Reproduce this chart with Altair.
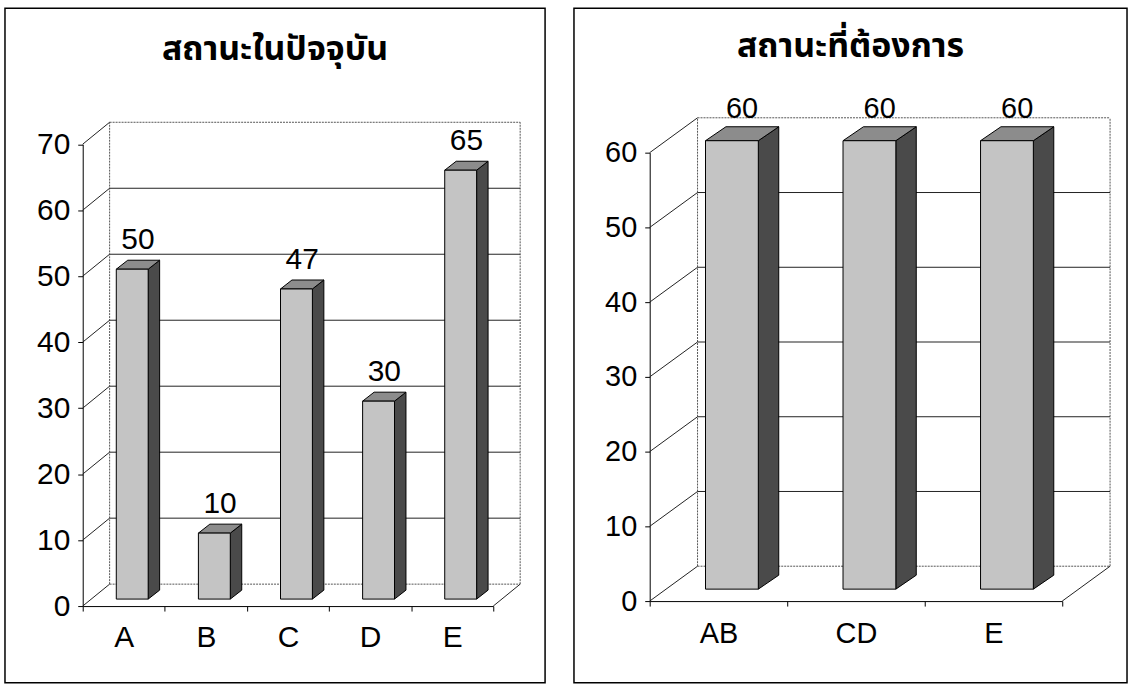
import altair as alt
import pandas as pd

# ---------------- data ----------------
left_title = "สถานะในปัจจุบัน"
left_categories = ["A", "B", "C", "D", "E"]
left_values = [50, 10, 47, 30, 65]
left_ticks = [0, 10, 20, 30, 40, 50, 60, 70]

right_title = "สถานะที่ต้องการ"
right_categories = ["AB", "CD", "E"]
right_values = [60, 60, 60]
right_ticks = [0, 10, 20, 30, 40, 50, 60]

FONT = "Liberation Sans, Arial, sans-serif"
THAI_FONT = "Noto Sans Thai, Loma, Garuda, Tahoma, Noto Sans, sans-serif"


def panel(title, cats, vals, ticks, W, H, xr, yr, depth, bar_front, bar_depth,
          bar_w, title_y, fs, label_dy, xlab_pad):
    n = len(cats)
    ymax = ticks[-1]
    ux = (xr[1] - xr[0]) / n
    uy = (yr[0] - yr[1]) / ymax
    Dx, Dy = depth[0] / ux, depth[1] / uy
    fx, fy = bar_front[0] / ux, bar_front[1] / uy
    bx, by = bar_depth[0] / ux, bar_depth[1] / uy
    hw = bar_w / ux / 2

    xs = alt.Scale(domain=[0, n], range=list(xr), nice=False, zero=False)
    ys = alt.Scale(domain=[0, ymax], range=list(yr), nice=False, zero=False)

    front, side, top, lab = [], [], [], []
    for i, (c, v) in enumerate(zip(cats, vals)):
        xl = i + 0.5 - hw + fx
        xrr = i + 0.5 + hw + fx
        yb = fy
        yt = v + fy
        front.append(dict(cat=c, x=xl, x2=xrr, y=yb, y2=yt))
        side.append(dict(cat=c, x=xrr, y=yb, y2=yt))
        side.append(dict(cat=c, x=xrr + bx, y=yb + by, y2=yt + by))
        top.append(dict(cat=c, y=yt, x=xl, x2=xrr))
        top.append(dict(cat=c, y=yt + by, x=xl + bx, x2=xrr + bx))
        lab.append(dict(cat=c, x=(xl + xrr + bx) / 2, y=yt + by, t=str(v)))

    solid, dotted = [], []
    for t in ticks:
        solid.append(dict(x=0, y=t, x2=Dx, y2=t + Dy))
        seg = dict(x=Dx, y=t + Dy, x2=n + Dx, y2=t + Dy)
        (dotted if t in (0, ymax) else solid).append(seg)
    solid.append(dict(x=n, y=0, x2=n + Dx, y2=Dy))
    dotted.append(dict(x=Dx, y=Dy, x2=Dx, y2=ymax + Dy))
    dotted.append(dict(x=n + Dx, y=Dy, x2=n + Dx, y2=ymax + Dy))

    X = lambda f="x": alt.X(f"{f}:Q", scale=xs)
    Y = lambda f="y": alt.Y(f"{f}:Q", scale=ys)

    lab_arr = "[" + ",".join("'" + c + "'" for c in cats) + "]"
    x_axis = alt.Axis(values=list(range(n + 1)), orient="bottom",
                      offset=-(H - yr[0]), labelExpr=f"datum.value < {n} ? {lab_arr}[datum.value] : ''",
                      labelOffset=ux / 2, labelFlush=False, labelOverlap=False,
                      labelFont=FONT, labelFontSize=fs, labelColor="black",
                      labelPadding=xlab_pad, tickSize=5, tickColor="black",
                      domainColor="black", grid=False, title=None)
    y_axis = alt.Axis(values=ticks, orient="left", offset=-xr[0],
                      labelFont=FONT, labelFontSize=fs, labelColor="black",
                      labelPadding=8, tickSize=5, tickColor="black",
                      domainColor="black", grid=False, title=None,
                      labelFlush=False, labelOverlap=False)

    axes = alt.Chart(pd.DataFrame(front)).mark_rule(opacity=0).encode(
        x=alt.X("x:Q", scale=xs, axis=x_axis),
        y=alt.Y("y:Q", scale=ys, axis=y_axis))

    rules_solid = alt.Chart(pd.DataFrame(solid)).mark_rule(
        color="#222", strokeWidth=1).encode(x=X(), y=Y(), x2="x2:Q", y2="y2:Q")
    rules_dot = alt.Chart(pd.DataFrame(dotted)).mark_rule(
        color="#555", strokeWidth=1, strokeDash=[2, 1]).encode(x=X(), y=Y(), x2="x2:Q", y2="y2:Q")

    side_l = alt.Chart(pd.DataFrame(side)).mark_area(
        orient="vertical", color="#4a4a4a", stroke="black", strokeWidth=1, opacity=1).encode(
        x=X(), y=Y(), y2="y2:Q", detail="cat:N")
    top_l = alt.Chart(pd.DataFrame(top)).mark_area(
        orient="horizontal", color="#8c8c8c", stroke="black", strokeWidth=1, opacity=1).encode(
        y=Y(), x=X(), x2="x2:Q", detail="cat:N")
    front_l = alt.Chart(pd.DataFrame(front)).mark_rect(
        color="#c4c4c4", stroke="black", strokeWidth=1).encode(
        x=X(), x2="x2:Q", y=Y(), y2="y2:Q")
    labels = alt.Chart(pd.DataFrame(lab)).mark_text(
        font=FONT, fontSize=fs, color="black", baseline="alphabetic", dy=label_dy).encode(
        x=X(), y=Y(), text="t:N")
    title_l = alt.Chart(pd.DataFrame({"t": [title]})).mark_text(
        font=THAI_FONT, fontSize=34, fontWeight="bold", color="black",
        align="center", baseline="middle").encode(
        x=alt.value(W / 2), y=alt.value(title_y), text="t:N")

    return alt.layer(axes, rules_dot, rules_solid, side_l, top_l, front_l, labels, title_l).properties(
        width=W, height=H)


left = panel(left_title, left_categories, left_values, left_ticks,
             W=542, H=677, xr=(78, 490), yr=(600, 136.5), depth=(27, 22),
             bar_front=(8.5, 7), bar_depth=(11.5, 9), bar_w=32, title_y=42, fs=30,
             label_dy=-11, xlab_pad=12)
right = panel(right_title, right_categories, right_values, right_ticks,
              W=555, H=677, xr=(76, 490), yr=(595, 145), depth=(48, 35),
              bar_front=(13.5, 12), bar_depth=(20.5, 14), bar_w=53, title_y=39, fs=29,
              label_dy=-9, xlab_pad=14)

chart = alt.hconcat(left, right, spacing=27).properties(
    padding={"left": 4, "top": 6, "right": 0, "bottom": 0},
    background="white",
).configure_view(stroke="black", strokeWidth=1.5)

chart.save("out.html", embed_options={"renderer": "svg", "actions": False})
